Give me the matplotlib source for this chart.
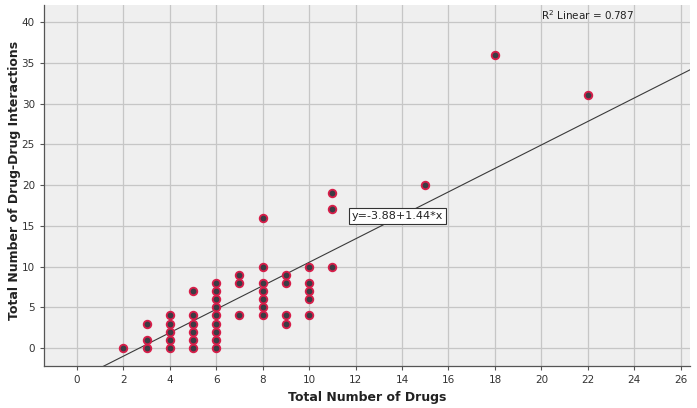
import numpy as np
import matplotlib
matplotlib.use('Agg')
import matplotlib.pyplot as plt

# number of drugs per patient and the matching count of drug-drug interactions
drugs = [2,
         3, 3, 3,
         4, 4, 4, 4, 4,
         5, 5, 5, 5, 5, 5,
         6, 6, 6, 6, 6, 6, 6, 6, 6,
         7, 7, 7,
         8, 8, 8, 8, 8, 8, 8,
         9, 9, 9, 9,
         10, 10, 10, 10, 10,
         11, 11, 11,
         15, 18, 22]
interactions = [0,
                0, 1, 3,
                0, 1, 2, 3, 4,
                0, 1, 2, 3, 4, 7,
                0, 1, 2, 3, 4, 5, 6, 7, 8,
                4, 8, 9,
                4, 5, 6, 7, 8, 10, 16,
                3, 4, 8, 9,
                4, 6, 7, 8, 10,
                10, 17, 19,
                20, 36, 31]

# fit reported by the chart
intercept = -3.88
slope = 1.44
r2 = 0.787

x_ticks = np.arange(0, 27, 2)
y_ticks = np.arange(0, 41, 5)

fig = plt.figure(figsize=(6.97, 4.08), dpi=100)
ax = fig.add_axes([0.063, 0.103, 0.927, 0.885])
ax.set_facecolor('#efefef')

ax.set_xlim(-1.42, 26.4)
ax.set_ylim(-2.2, 42.1)
ax.set_xticks(x_ticks)
ax.set_yticks(y_ticks)
ax.grid(True, color='#c6c6c6', linewidth=0.9)
ax.set_axisbelow(True)

for s in ['top', 'right']:
    ax.spines[s].set_visible(False)
for s in ['left', 'bottom']:
    ax.spines[s].set_color('#555555')
    ax.spines[s].set_linewidth(0.9)
ax.tick_params(colors='#555555', labelcolor='#333333', labelsize=7.5, length=3, width=0.8)

# regression line
xx = np.array(ax.get_xlim())
ax.plot(xx, intercept + slope * xx, color='#3a3a3a', linewidth=0.8, zorder=2)

ax.scatter(drugs, interactions, s=30, facecolor='#3c3c44', edgecolor='#d81e4a',
           linewidth=1.3, zorder=3)

ax.text(13.8, 16.2, 'y=%.2f+%.2f*x' % (intercept, slope), fontsize=8,
        ha='center', va='center', color='#222222', zorder=4,
        bbox=dict(boxstyle='square,pad=0.25', facecolor='white', edgecolor='#333333', linewidth=0.8))

ax.text(22.0, 40.9, 'R$^2$ Linear = %.3f' % r2, fontsize=7.5, ha='center', va='center',
        color='#222222')

ax.set_xlabel('Total Number of Drugs', fontsize=9, fontweight='bold', color='#222222')
ax.set_ylabel('Total Number of Drug-Drug Interactions', fontsize=9, fontweight='bold',
              color='#222222')
ax.xaxis.label.set_va('center')
ax.yaxis.label.set_va('center')
ax.xaxis.set_label_coords(0.5, -0.088)
ax.yaxis.set_label_coords(-0.045, 0.515)

fig.savefig('out.png', dpi=100)
